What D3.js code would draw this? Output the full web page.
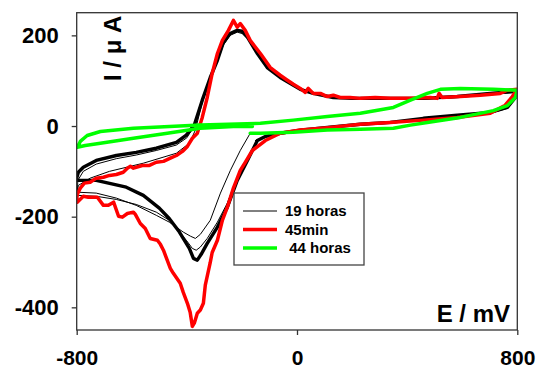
<!DOCTYPE html>
<html><head><meta charset="utf-8">
<script src="https://cdn.jsdelivr.net/npm/d3@7"></script>
<style>
body{margin:0;background:#fff;}
svg{display:block;font-family:"Liberation Sans",Arial,sans-serif;}
</style></head>
<body>
<svg id="chart" width="537" height="371"></svg>
<script>
// ---- data (E in mV, I in µA) ----
const xTicks = [-800, 0, 800];
const yTicks = [-400, -200, 0, 200];
const legendLabels = ["19 horas", "45min", " 44 horas"];

// 19 horas, first cycle (thin, starts near -170 mV)
const black1 = [[-170,-16],[-206,-54],[-242,-98],[-278,-148],[-315,-208],[-351,-239],[-369,-248],[-387,-243],[-413,-234],[-464,-212],[-511,-197],[-584,-175],[-656,-159],[-729,-148],[-798,-146],
[-794,-131],[-751,-115],[-681,-100],[-558,-82],[-438,-60],[-391,-38],[-369,-9],[-344,52],[-315,103],[-289,143],[-268,178],[-243,200],[-217,207],[-199,204],[-177,191],[-141,158],[-104,127],[-57,105],[-6,88],[66,70],[157,61],[302,59],[459,59],[582,63],[702,70],[800,74],
[793,61],[764,39],[702,28],[582,21],[459,15],[339,6],[230,2],[110,-5],[12,-12],[-61,-18],[-115,-25],[-151,-32]];
// 19 horas, second cycle (thin)
const black2 = [[800,74],[793,62],[764,40],[702,29],[582,22],[459,16],[339,7],[230,3],[110,-4],[12,-10],[-61,-17],[-115,-24],[-144,-32],[-180,-71],[-217,-113],[-253,-170],[-289,-212],[-326,-248],[-351,-267],[-366,-274],[-380,-270],[-402,-252],[-438,-226],[-464,-208],[-511,-190],[-584,-173],[-656,-162],[-729,-155],[-798,-153],
[-796,-120],[-776,-100],[-729,-84],[-656,-72],[-584,-64],[-511,-54],[-438,-42],[-400,-26],[-373,0],[-344,55],[-315,105],[-289,144],[-268,181],[-243,202],[-217,209],[-199,207],[-180,194],[-144,159],[-108,128],[-61,106],[-13,89],[12,80],[59,71],[132,62],[204,60],[302,60],[459,60],[582,64],[702,71],[800,75]];
// 19 horas, later cycles (bundle)
const black3 = [[800,74],[793,63],[764,41],[702,30],[582,24],[459,17],[339,8],[230,4],[110,-3],[12,-9],[-61,-16],[-115,-23],[-144,-32],[-180,-76],[-217,-120],[-253,-179],[-289,-223],[-326,-259],[-348,-283],[-362,-296],[-376,-292],[-391,-270],[-427,-234],[-464,-204],[-500,-181],[-558,-153],[-620,-135],[-729,-120],[-798,-120],[-800,-115],
[-794,-102],[-776,-91],[-729,-76],[-656,-65],[-584,-58],[-511,-49],[-438,-36],[-402,-20],[-373,2],[-344,57],[-315,107],[-289,145],[-268,183],[-243,204],[-217,211],[-199,209],[-180,196],[-144,160],[-108,129],[-61,107],[-13,90],[12,81],[59,72],[132,63],[204,61],[302,61],[459,61],[582,65],[702,72],[793,77],[800,76]];
// 45min
const red = [[800,81],[782,65],[756,46],[702,28],[582,19],[459,13],[339,8],[230,4],[121,-3],[12,-9],[-61,-16],[-115,-32],[-162,-54],[-188,-80],[-206,-98],[-220,-120],[-231,-137],[-253,-179],[-271,-208],[-289,-252],[-308,-279],[-315,-301],[-333,-351],[-340,-391],[-351,-406],[-362,-413],[-373,-435],[-380,-442],[-388,-411],[-398,-391],[-413,-367],[-424,-347],[-449,-325],[-460,-314],[-485,-274],[-496,-261],[-507,-252],[-533,-248],[-551,-226],[-569,-215],[-587,-195],[-594,-190],[-616,-193],[-634,-201],[-648,-199],[-666,-168],[-685,-175],[-703,-175],[-725,-157],[-758,-157],[-776,-155],[-798,-168],[-800,-164],
[-798,-151],[-787,-137],[-772,-126],[-751,-124],[-729,-115],[-703,-113],[-681,-109],[-656,-107],[-631,-102],[-616,-93],[-605,-89],[-594,-93],[-584,-91],[-562,-87],[-536,-87],[-511,-80],[-485,-78],[-460,-71],[-438,-65],[-416,-56],[-398,-45],[-380,-27],[-362,-16],[-344,19],[-326,63],[-308,116],[-289,160],[-271,189],[-249,211],[-231,233],[-217,218],[-206,226],[-188,211],[-170,189],[-133,160],[-97,129],[-61,112],[-35,101],[-13,92],[12,83],[30,74],[41,83],[59,72],[85,72],[110,65],[132,68],[157,63],[193,63],[230,61],[284,63],[339,61],[411,61],[484,63],[509,61],[516,72],[527,63],[593,65],[666,68],[738,72],[764,79],[800,81]];
// 44 horas
const green = [[-162,-1],[-231,-1],[-351,-5],[-471,-16],[-594,-27],[-714,-38],[-769,-43],[-798,-47],
[-787,-34],[-762,-21],[-714,-12],[-594,-5],[-351,2],[-133,6],[-13,13],[110,21],[230,28],[350,41],[412,57],[473,72],[521,81],[593,83],[713,81],[800,79],
[793,63],[764,45],[713,34],[593,19],[473,8],[412,2],[350,-5],[230,-7],[110,-9],[-13,-14],[-133,-16],[-170,-16]];

// ---- drawing ----
const svg = d3.select("#chart");
const L = 76.7, R = 517.3, T = 12.7, B = 330;
const x = d3.scaleLinear().domain([-800, 800]).range([L, R]);
const y = d3.scaleLinear().domain([-450, 250]).range([B, T]);

const clipId = "plotclip";
svg.append("clipPath").attr("id", clipId).append("rect")
  .attr("x", L).attr("y", T).attr("width", R - L).attr("height", B - T);

const line = d3.line().x(d => x(d[0])).y(d => y(d[1])).curve(d3.curveLinear);
const g = svg.append("g").attr("clip-path", `url(#${clipId})`);

const series = [
  {data: black3, color: "#000", w: 3.4},
  {data: black2, color: "#000", w: 1},
  {data: black1, color: "#000", w: 1},
  {data: red, color: "#ff0000", w: 3.5},
  {data: green, color: "#00ff00", w: 3.5}
];
series.forEach(s => {
  g.append("path").attr("d", line(s.data)).attr("fill", "none")
    .attr("stroke", s.color).attr("stroke-width", s.w)
    .attr("stroke-linejoin", "round").attr("stroke-linecap", "round");
});

// frame
svg.append("rect").attr("x", L).attr("y", T).attr("width", R - L).attr("height", B - T)
  .attr("fill", "none").attr("stroke", "#333").attr("stroke-width", 1.3);

// axes
const fmt = d => String(d);
const yAxis = svg.append("g").attr("transform", `translate(${L},0)`)
  .call(d3.axisLeft(y).tickValues(yTicks).tickSize(5).tickPadding(13).tickFormat(fmt));
const xAxis = svg.append("g").attr("transform", `translate(0,${B})`)
  .call(d3.axisBottom(x).tickValues(xTicks).tickSize(5).tickPadding(15).tickFormat(fmt));
[yAxis, xAxis].forEach(a => {
  a.select(".domain").remove();
  a.selectAll(".tick line").attr("stroke", "#333").attr("stroke-width", 1.3);
  a.selectAll(".tick text").attr("font-size", 22).attr("font-weight", "bold")
    .attr("fill", "#000").attr("font-family", "'Liberation Sans', Arial, sans-serif");
});
xAxis.selectAll(".tick text").attr("font-size", 21);

// axis titles
svg.append("text").attr("transform", "translate(121,81) rotate(-90)")
  .attr("text-anchor", "start").attr("font-size", 24).attr("font-weight", "bold")
  .text("I / μ A");
svg.append("text").attr("x", 510).attr("y", 322).attr("text-anchor", "end")
  .attr("font-size", 24).attr("font-weight", "bold").text("E / mV");

// legend
const lg = svg.append("g");
lg.append("rect").attr("x", 234).attr("y", 193).attr("width", 130).attr("height", 72)
  .attr("fill", "#fff").attr("stroke", "#444").attr("stroke-width", 1.3);
const legColors = ["#000", "#ff0000", "#00ff00"];
const legW = [1, 3.5, 3.5];
const legY = [211, 229.5, 248];
legendLabels.forEach((t, i) => {
  lg.append("line").attr("x1", 243).attr("x2", 277).attr("y1", legY[i]).attr("y2", legY[i])
    .attr("stroke", legColors[i]).attr("stroke-width", legW[i]);
  lg.append("text").attr("x", 285).attr("y", legY[i] + 5).attr("font-size", 15)
    .attr("font-weight", "bold").attr("xml:space", "preserve").style("white-space", "pre").text(t);
});
</script>
</body></html>
